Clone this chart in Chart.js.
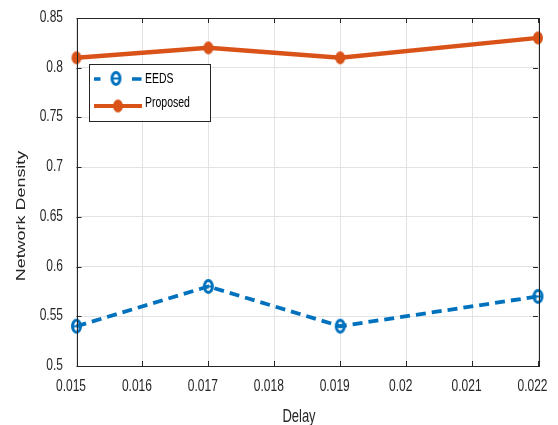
<!DOCTYPE html>
<html>
<head>
<meta charset="utf-8">
<script src="https://cdn.jsdelivr.net/npm/chart.js@4"></script>
<style>
html,body{margin:0;padding:0;background:#fff;}
#wrap{width:558px;height:425px;position:relative;}
</style>
</head>
<body>
<div id="wrap"><canvas id="c" width="558" height="425"></canvas></div>
<script>
const delays = [0.015, 0.017, 0.019, 0.022];
const eeds = [0.54, 0.58, 0.54, 0.57];
const proposed = [0.81, 0.82, 0.81, 0.83];
const xTicks = [0.015, 0.016, 0.017, 0.018, 0.019, 0.02, 0.021, 0.022];
const xTickLabels = ['0.015','0.016','0.017','0.018','0.019','0.02','0.021','0.022'];
const yTicks = [0.5, 0.55, 0.6, 0.65, 0.7, 0.75, 0.8, 0.85];
const yTickLabels = ['0.5','0.55','0.6','0.65','0.7','0.75','0.8','0.85'];
const seriesNames = ['EEDS', 'Proposed'];
const xTitle = 'Delay';
const yTitle = 'Network Density';

const BLUE = '#0072BD', ORANGE = '#D95319', AXIS = '#262626';
const FONT = '"Liberation Sans", Arial, sans-serif';
const SY = 1.38; // vertical stretch of the reference text

function makeMarker(rx, ry, lw, stroke, fill, bar) {
  const c = document.createElement('canvas');
  c.width = Math.ceil(2*rx + lw + 2);
  c.height = Math.ceil(2*ry + lw + 2);
  const g = c.getContext('2d');
  const cx = c.width/2, cy = c.height/2;
  g.beginPath();
  g.ellipse(cx, cy, rx, ry, 0, 0, Math.PI*2);
  if (fill) { g.fillStyle = fill; g.fill(); }
  if (lw > 0) { g.strokeStyle = stroke; g.lineWidth = lw; g.stroke(); }
  if (bar) {
    g.beginPath(); g.moveTo(cx - rx + 1, cy); g.lineTo(cx + rx - 1, cy);
    g.strokeStyle = stroke; g.lineWidth = 2; g.stroke();
  }
  return c;
}
const eedsMarker = makeMarker(4, 6, 3, BLUE, null, true);
const propMarker = makeMarker(5, 6.5, 0, ORANGE, ORANGE, false);

function stretchedText(ctx, text, x, y, size, align, color, rotate) {
  ctx.save();
  ctx.translate(x, y);
  if (rotate) { ctx.rotate(-Math.PI/2); ctx.scale(SY, 1); }
  else { ctx.scale(1, SY); }
  ctx.font = size + 'px ' + FONT;
  ctx.fillStyle = color;
  ctx.textAlign = align;
  ctx.textBaseline = 'alphabetic';
  ctx.fillText(text, 0, 0);
  ctx.restore();
}

const boxPlugin = {
  id: 'boxPlugin',
  afterDatasetsDraw(chart) {
    const ctx = chart.ctx, a = chart.chartArea;
    const xs = chart.scales.x, ys = chart.scales.y;
    ctx.save();
    ctx.strokeStyle = AXIS;
    ctx.lineWidth = 1;
    ctx.strokeRect(Math.round(a.left)+0.5, Math.round(a.top)+0.5, Math.round(a.right-a.left), Math.round(a.bottom-a.top));
    const tl = 5;
    ctx.beginPath();
    xTicks.forEach(v => {
      const px = Math.round(xs.getPixelForValue(v)) + 0.5;
      ctx.moveTo(px, a.bottom); ctx.lineTo(px, a.bottom - tl);
      ctx.moveTo(px, a.top); ctx.lineTo(px, a.top + tl);
    });
    yTicks.forEach(v => {
      const py = Math.round(ys.getPixelForValue(v)) + 0.5;
      ctx.moveTo(a.left, py); ctx.lineTo(a.left + tl, py);
      ctx.moveTo(a.right, py); ctx.lineTo(a.right - tl, py);
    });
    ctx.stroke();
    ctx.restore();
  },
  afterDraw(chart) {
    const ctx = chart.ctx;
    const xs = chart.scales.x, ys = chart.scales.y;
    // tick labels and axis titles
    xTicks.forEach((v, i) => {
      stretchedText(ctx, xTickLabels[i], xs.getPixelForValue(v) - 5.5, 391, 12, 'center', AXIS, false);
    });
    yTicks.forEach((v, i) => {
      stretchedText(ctx, yTickLabels[i], 63, ys.getPixelForValue(v) + 4, 12, 'right', AXIS, false);
    });
    stretchedText(ctx, xTitle, 299, 421.5, 13, 'center', AXIS, false);
    stretchedText(ctx, yTitle, 25, 216, 13, 'center', AXIS, true);

    // legend
    ctx.save();
    const bx = 89.5, by = 64.5, bw = 121, bh = 57;
    ctx.fillStyle = '#fff';
    ctx.fillRect(bx, by, bw, bh);
    ctx.strokeStyle = '#262626';
    ctx.lineWidth = 1;
    ctx.strokeRect(bx, by, bw, bh);
    let y = 79;
    ctx.strokeStyle = BLUE; ctx.lineWidth = 3.5;
    ctx.beginPath();
    ctx.moveTo(94, y); ctx.lineTo(100.5, y);
    ctx.moveTo(132, y); ctx.lineTo(141.5, y);
    ctx.stroke();
    ctx.drawImage(eedsMarker, 116 - eedsMarker.width/2, y - eedsMarker.height/2 - 0.5);
    y = 106;
    ctx.strokeStyle = ORANGE; ctx.lineWidth = 4;
    ctx.beginPath(); ctx.moveTo(94, y); ctx.lineTo(142, y); ctx.stroke();
    ctx.drawImage(propMarker, 118 - propMarker.width/2, y - propMarker.height/2);
    ctx.restore();
    stretchedText(ctx, seriesNames[0], 145, 83.3, 10.5, 'left', '#000', false);
    stretchedText(ctx, seriesNames[1], 145, 106.7, 10.5, 'left', '#000', false);
  }
};

new Chart(document.getElementById('c'), {
  type: 'line',
  data: {
    datasets: [
      {
        label: seriesNames[0],
        data: delays.map((d,i)=>({x:d, y:eeds[i]})),
        borderColor: BLUE,
        borderWidth: 3.8,
        borderDash: [10,6],
        pointStyle: eedsMarker,
        pointRadius: 6,
        tension: 0,
        clip: false
      },
      {
        label: seriesNames[1],
        data: delays.map((d,i)=>({x:d, y:proposed[i]})),
        borderColor: ORANGE,
        borderWidth: 4.5,
        pointStyle: propMarker,
        pointRadius: 6,
        tension: 0,
        clip: false
      }
    ]
  },
  options: {
    responsive: false,
    animation: false,
    devicePixelRatio: 1,
    layout: { padding: { left: 0, right: 20, top: 18, bottom: 0 } },
    plugins: { legend: { display: false }, tooltip: { enabled: false } },
    scales: {
      x: {
        type: 'linear',
        min: 0.015, max: 0.022,
        afterBuildTicks(s) { s.ticks = xTicks.map(v => ({value: v})); },
        ticks: { display: false },
        grid: { color: '#e3e3e3', drawTicks: false, lineWidth: 1 },
        border: { display: false },
        title: { display: false, text: xTitle },
        afterFit(s) { s.height = 59; }
      },
      y: {
        type: 'linear',
        min: 0.5, max: 0.85,
        afterBuildTicks(s) { s.ticks = yTicks.map(v => ({value: v})); },
        ticks: { display: false },
        grid: { color: '#e3e3e3', drawTicks: false, lineWidth: 1 },
        border: { display: false },
        title: { display: false, text: yTitle },
        afterFit(s) { s.width = 76.5; }
      }
    }
  },
  plugins: [boxPlugin]
});
</script>
</body>
</html>
